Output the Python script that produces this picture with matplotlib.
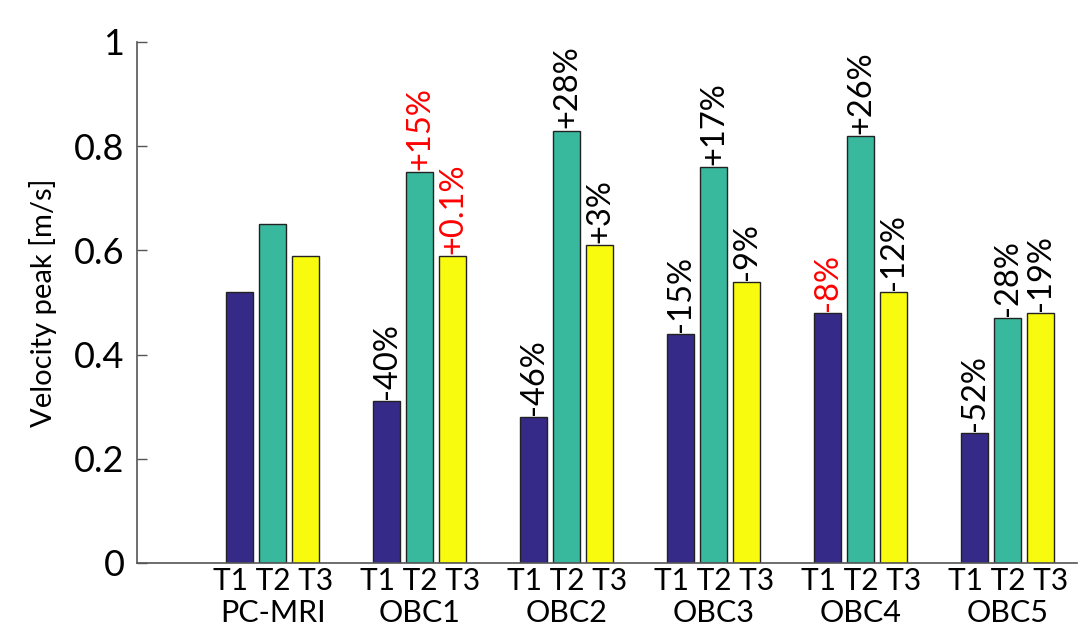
import numpy as np
import matplotlib
matplotlib.use("Agg")
import matplotlib.pyplot as plt
from matplotlib.transforms import blended_transform_factory, offset_copy

plt.rcParams["font.family"] = ["Lato", "DejaVu Sans"]

groups = ["PC-MRI", "OBC1", "OBC2", "OBC3", "OBC4", "OBC5"]
phases = ["T1", "T2", "T3"]
t1 = [0.52, 0.31, 0.28, 0.44, 0.48, 0.25]
t2 = [0.65, 0.75, 0.83, 0.76, 0.82, 0.47]
t3 = [0.59, 0.59, 0.61, 0.54, 0.52, 0.48]

# relative difference to PC-MRI, one list per phase (None for the reference group)
lab1 = [None, "-40%", "-46%", "-15%", "-8%", "-52%"]
lab2 = [None, "+15%", "+28%", "+17%", "+26%", "-28%"]
lab3 = [None, "+0.1%", "+3%", "-9%", "-12%", "-19%"]
# labels within tolerance are highlighted
red1 = [False, False, False, False, True, False]
red2 = [False, True, False, False, False, False]
red3 = [False, True, False, False, False, False]

colors = ["#352a87", "#38b99e", "#f9fb0e"]

fig = plt.figure(figsize=(10.84, 6.34), dpi=100)
ax = fig.add_axes([0.1264, 0.112, 0.8671, 0.8218])

x = np.arange(1, len(groups) + 1)
off = 0.2245
w = 0.184
series = [(t1, lab1, red1), (t2, lab2, red2), (t3, lab3, red3)]
for k, (vals, labs, reds) in enumerate(series):
    xs = x + (k - 1) * off
    ax.bar(xs, vals, width=w, color=colors[k], edgecolor="#222222", linewidth=1.0, zorder=2)
    for xi, v, s, r in zip(xs, vals, labs, reds):
        if s is None:
            continue
        ax.text(xi, v + 0.004, s, rotation=90, ha="center", va="bottom",
                fontsize=23.5, color="red" if r else "black")

ax.set_xlim(0.075, 6.47)
ax.set_ylim(0, 1)
ax.set_yticks([0, 0.2, 0.4, 0.6, 0.8, 1])
ax.set_yticklabels(["0", "0.2", "0.4", "0.6", "0.8", "1"], fontsize=26)
ax.tick_params(axis="y", direction="in", length=7, width=1, color="#555555", pad=9)

# one "T1 T2 T3" label per group, group name on the line below
ax.set_xticks(x)
ax.set_xticklabels([" ".join(phases)] * len(groups), fontsize=21.5)
ax.tick_params(axis="x", length=0, pad=3)

trans = offset_copy(blended_transform_factory(ax.transData, ax.transAxes),
                    fig=fig, y=-26, units="points")
for xi, g in zip(x, groups):
    ax.text(xi, 0, g, transform=trans, ha="center", va="top", fontsize=22)

for side in ["top", "right"]:
    ax.spines[side].set_visible(False)
for side in ["left", "bottom"]:
    ax.spines[side].set_color("#555555")
    ax.spines[side].set_linewidth(1.2)

ax.set_ylabel("Velocity peak [m/s]", fontsize=21, labelpad=12)

fig.savefig("out.png", dpi=100)
